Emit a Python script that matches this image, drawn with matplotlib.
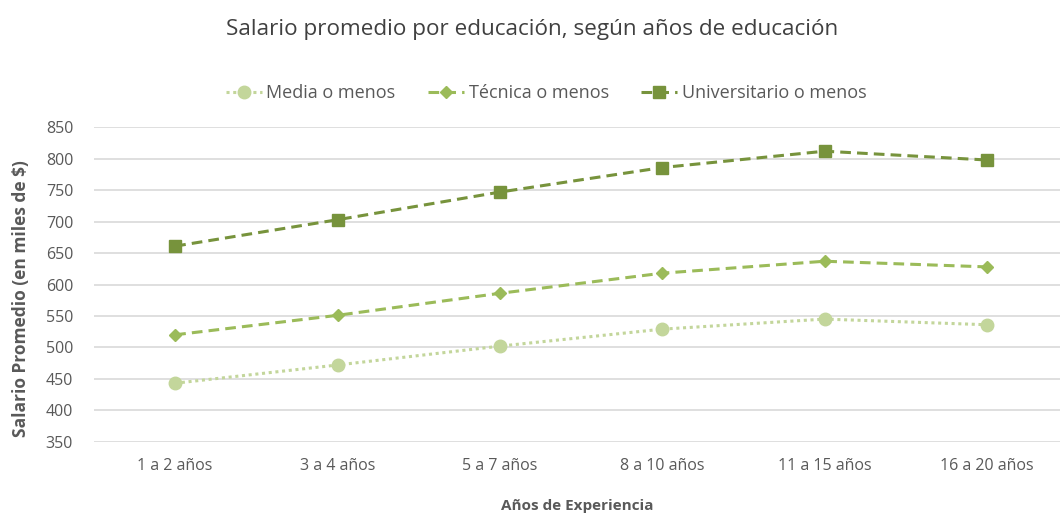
import matplotlib.pyplot as plt
import numpy as np

# Data
categorias = ["1 a 2 años", "3 a 4 años", "5 a 7 años", "8 a 10 años", "11 a 15 años", "16 a 20 años"]
media = [443, 472, 502, 529, 545, 536]
tecnica = [520, 551, 586, 618, 637, 628]
universitario = [661, 703, 747, 786, 812, 798]

plt.rcParams['font.family'] = ['Open Sans', 'DejaVu Sans']
gris = "#595959"

fig = plt.figure(figsize=(10.64, 5.16), dpi=100)
ax = fig.add_axes([94 / 1064, 1 - 441.7 / 516, (1060 - 94) / 1064, (441.7 - 127.3) / 516])

x = np.arange(len(categorias))
ax.plot(x, media, linestyle=(0, (1, 1.2)), linewidth=2.2, color="#C3D69B",
        marker="o", markersize=9, label="Media o menos")
ax.plot(x, tecnica, linestyle=(0, (3.5, 2)), linewidth=2.2, color="#9BBB59",
        marker="D", markersize=6, label="Técnica o menos")
ax.plot(x, universitario, linestyle=(0, (3.5, 2)), linewidth=2.2, color="#77933C",
        marker="s", markersize=8, label="Universitario o menos")

ax.set_ylim(350, 850)
ax.set_yticks(range(350, 851, 50))
ax.set_xlim(-0.5, 5.45)
ax.set_xticks(x)
ax.set_xticklabels(categorias)
ax.grid(axis="y", color="#D9D9D9", linewidth=1.2)
ax.set_axisbelow(True)
for s in ax.spines.values():
    s.set_visible(False)
ax.tick_params(length=0, labelsize=11.5, colors=gris)
ax.tick_params(axis="x", pad=12)
ax.tick_params(axis="y", pad=15)

ax.set_xlabel("Años de Experiencia", fontsize=11, fontweight="bold", color=gris)
ax.xaxis.set_label_coords(0.5, -0.183)
ax.set_ylabel("Salario Promedio (en miles de $)", fontsize=12.5, fontweight="bold", color=gris)
ax.yaxis.set_label_coords(-0.066, 0.455)

fig.text(0.5, 1 - 29 / 516, "Salario promedio por educación, según años de educación",
         ha="center", va="center", fontsize=16.2, color="#404040")

fig.legend(loc="center", bbox_to_anchor=(546 / 1064, 1 - 93 / 516), ncol=3, frameon=False,
           fontsize=13, labelcolor=gris, handlelength=2.0, handletextpad=0.25, columnspacing=1.8)

fig.savefig("out.png", dpi=100)
